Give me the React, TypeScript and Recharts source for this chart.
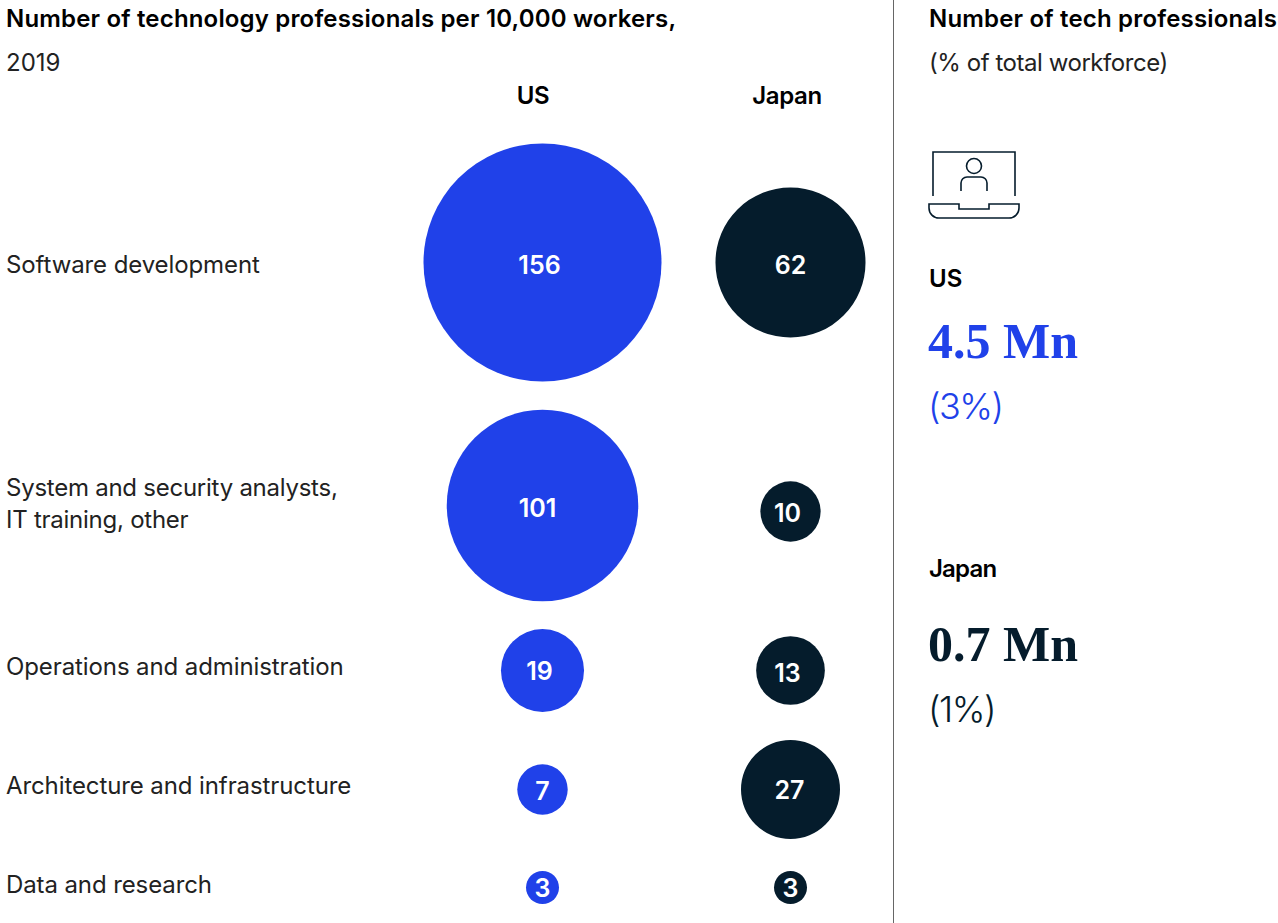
import { LabelList, ReferenceLine, Scatter, ScatterChart, XAxis, YAxis, ZAxis } from "recharts";

const WIDTH = 1278;
const HEIGHT = 923;
const BLUE = "#2041E9";
const NAVY = "#051C2C";
const SANS = "Inter, 'Noto Sans', sans-serif";

const roles = [
  ["Software development"],
  ["System and security analysts,", "IT training, other"],
  ["Operations and administration"],
  ["Architecture and infrastructure"],
  ["Data and research"],
];
const usValues = [156, 101, 19, 7, 3];
const japanValues = [62, 10, 13, 27, 3];

// axis units are the same size as the picture, rows are not evenly spaced
const usRows = [262.5, 505.5, 670.5, 789.5, 887.5];
const japanRows = [262.5, 511.5, 670.5, 789.5, 887.5];
const roleTicks = [265, 504, 667, 786, 885];
const usColumn = 542.5;
const japanColumn = 790.5;
const columnNames = ["US", "Japan"];
const columnTicks = [533, 787];

// the numbers don't sit dead centre in the bubbles
const usNudge = [[-3, 2], [-5, 2], [-3, 0], [0, 1], [0, 0]];
const japanNudge = [[0, 2], [-3, 1], [-3, 2], [-1, 0], [0, 0]];

const usData = usValues.map((value, i) => ({ x: usColumn, y: usRows[i], value }));
const japanData = japanValues.map((value, i) => ({ x: japanColumn, y: japanRows[i], value }));

function RoleTick({ y, index }: any) {
  const lines = roles[index];
  return (
    <text
      x={6}
      y={y}
      textAnchor="start"
      fontFamily={SANS}
      fontSize={24}
      fill="#222"
      letterSpacing={lines.length > 1 ? -0.25 : -0.1}
    >
      {lines.map((line: string, i: number) => (
        <tspan key={line} x={6} dy={i === 0 ? (lines.length > 1 ? -8 : 8) : 32}>
          {line}
        </tspan>
      ))}
    </text>
  );
}

function ColumnTick({ x, index }: any) {
  return (
    <text x={x} y={104} textAnchor="middle" fontFamily={SANS} fontSize={24} fontWeight={600} fill="#000" letterSpacing={-0.4}>
      {columnNames[index]}
    </text>
  );
}

function bubbleLabel(nudge: number[][]) {
  return (props: any) => {
    const { x, y, width, height, value, index } = props;
    const [dx, dy] = nudge[index];
    return (
      <text
        x={x + width / 2 + dx}
        y={y + height / 2 + dy}
        textAnchor="middle"
        dominantBaseline="central"
        fill="#fff"
        fontFamily={SANS}
        fontSize={25}
        fontWeight={600}
      >
        {value}
      </text>
    );
  };
}

function Note({ top, left, children, style }: any) {
  return (
    <div style={{ position: "absolute", top, left, whiteSpace: "nowrap", fontFamily: SANS, lineHeight: 1, ...style }}>
      {children}
    </div>
  );
}

function LaptopIcon() {
  return (
    <svg style={{ position: "absolute", left: 927, top: 150 }} width={95} height={72} fill="none" stroke={NAVY} strokeWidth={1.6}>
      <path d="M6 46 V2 H88 V46" />
      <circle cx={47} cy={16} r={7.5} />
      <path d="M34 41 V33 a6 6 0 0 1 6 -6 H54 a6 6 0 0 1 6 6 V41" />
      <path d="M2 54 H32 V59 H62 V54 H92 V58 a10 10 0 0 1 -10 10 H12 a10 10 0 0 1 -10 -10 Z" />
    </svg>
  );
}

export default function App() {
  return (
    <div style={{ position: "fixed", left: 0, top: 0, width: WIDTH, height: HEIGHT, background: "#fff", overflow: "hidden" }}>
      <ScatterChart width={WIDTH} height={HEIGHT} margin={{ top: 0, right: 0, bottom: 0, left: 0 }}>
        <XAxis
          type="number"
          dataKey="x"
          orientation="top"
          mirror
          domain={[0, WIDTH]}
          ticks={columnTicks}
          interval={0}
          axisLine={false}
          tickLine={false}
          tick={<ColumnTick />}
        />
        <YAxis
          type="number"
          dataKey="y"
          reversed
          mirror
          domain={[0, HEIGHT]}
          ticks={roleTicks}
          interval={0}
          axisLine={false}
          tickLine={false}
          tick={<RoleTick />}
        />
        <ZAxis type="number" dataKey="value" domain={[0, 156]} range={[0, Math.PI * 119 * 119]} />
        <ReferenceLine x={893.5} stroke="#666" strokeWidth={1} />
        <Scatter name="US" data={usData} fill={BLUE} isAnimationActive={false}>
          <LabelList dataKey="value" content={bubbleLabel(usNudge)} />
        </Scatter>
        <Scatter name="Japan" data={japanData} fill={NAVY} isAnimationActive={false}>
          <LabelList dataKey="value" content={bubbleLabel(japanNudge)} />
        </Scatter>
      </ScatterChart>

      <Note top={7} left={6} style={{ fontSize: 24, fontWeight: 600, color: "#000", letterSpacing: 0.17 }}>
        Number of technology professionals per 10,000 workers,
      </Note>
      <Note top={51} left={6} style={{ fontSize: 24, color: "#222" }}>2019</Note>
      <Note top={7} left={929} style={{ fontSize: 24, fontWeight: 600, color: "#000", letterSpacing: 0.18 }}>Number of tech professionals</Note>
      <Note top={51} left={929} style={{ fontSize: 24, color: "#222", letterSpacing: -0.45 }}>(% of total workforce)</Note>
      <LaptopIcon />
      <Note top={267} left={929} style={{ fontSize: 24, fontWeight: 600, color: "#000" }}>US</Note>
      <Note top={316} left={928} style={{ fontSize: 50, fontWeight: 700, color: BLUE, fontFamily: "'Liberation Serif', serif" }}>4.5 Mn</Note>
      <Note top={388} left={928} style={{ fontSize: 36, color: BLUE, fontWeight: 300, letterSpacing: -1.5 }}>(3%)</Note>
      <Note top={557} left={929} style={{ fontSize: 24, fontWeight: 600, color: "#000", letterSpacing: -0.8 }}>Japan</Note>
      <Note top={619} left={928} style={{ fontSize: 50, fontWeight: 700, color: NAVY, fontFamily: "'Liberation Serif', serif" }}>0.7 Mn</Note>
      <Note top={691} left={928} style={{ fontSize: 36, color: NAVY, fontWeight: 300, letterSpacing: -1.5 }}>(1%)</Note>
    </div>
  );
}
